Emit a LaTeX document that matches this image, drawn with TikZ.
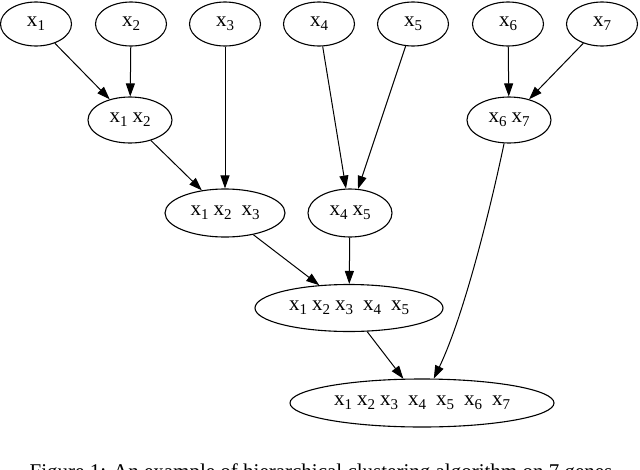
\documentclass[tikz,border=0pt]{standalone}
\usepackage{fontspec}
\setmainfont{Liberation Serif}
\usetikzlibrary{shapes.geometric,arrows.meta}
\newcommand{\xs}[1]{x\raisebox{-0.45ex}{\fontsize{15}{15}\selectfont #1}}
\newcommand{\gp}{\hspace{5pt}}
\newcommand{\gq}{\hspace{10pt}}
\begin{document}
\begin{tikzpicture}[x=1pt,y=-1pt,
  gnode/.style={ellipse,draw,line width=1.1pt,inner sep=0pt,font=\fontsize{21}{21}\selectfont},
  edge/.style={line width=1pt,-{Triangle[length=13pt,width=9pt]}}]
\clip (0,0) rectangle (640,469);
\useasboundingbox (0,0) rectangle (640,469);
\foreach \n/\cx in {1/36,2/131,3/225,4/319,5/413,6/508,7/602}
  \node[gnode,minimum width=71pt,minimum height=44pt] (x\n) at (\cx,24) {\xs{\n}};
\node[gnode,minimum width=84pt,minimum height=46pt] (x12) at (130,120) {\xs{1}\gp\xs{2}};
\node[gnode,minimum width=84pt,minimum height=46pt] (x67) at (509,120) {\xs{6}\gp\xs{7}};
\node[gnode,minimum width=120pt,minimum height=48pt] (x123) at (225,213) {\xs{1}\gp\xs{2}\gq\xs{3}};
\node[gnode,minimum width=84pt,minimum height=48pt] (x45) at (350,213) {\xs{4}\gp\xs{5}};
\node[gnode,minimum width=188pt,minimum height=47pt] (x15) at (349,308) {\xs{1}\gp\xs{2}\gp\xs{3}\gq\xs{4}\gq\xs{5}};
\node[gnode,minimum width=264pt,minimum height=48pt] (x17) at (422,403) {\xs{1}\gp\xs{2}\gp\xs{3}\gq\xs{4}\gq\xs{5}\gq\xs{6}\gq\xs{7}};
\draw[edge] (x1) -- (x12);
\draw[edge] (x2) -- (x12);
\draw[edge] (x3) -- (x123);
\draw[edge] (x12) -- (x123);
\draw[edge] (x4) -- (x45);
\draw[edge] (x5) -- (x45);
\draw[edge] (x6) -- (x67);
\draw[edge] (x7) -- (x67);
\draw[edge] (x123) -- (x15);
\draw[edge] (x45) -- (x15);
\draw[edge] (x15) -- (x17);
\draw[edge] (x67) .. controls (488,220) and (462,320) .. (x17);
\node[anchor=base,font=\fontsize{21}{21}\selectfont,inner sep=0pt] (cap) at (321,478) {Figure 1: An example of hierarchical clustering algorithm on 7 genes};
\end{tikzpicture}
\end{document}
